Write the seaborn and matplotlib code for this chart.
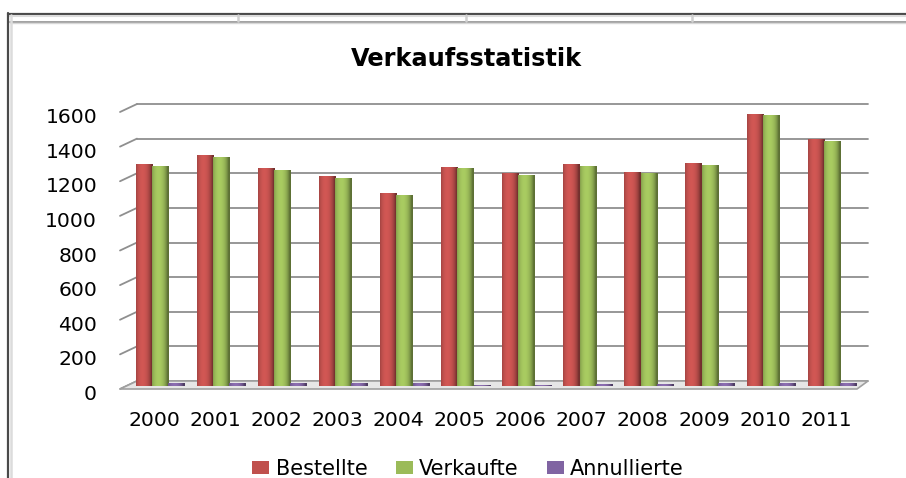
import numpy as np
import pandas as pd
import seaborn as sns
import matplotlib
matplotlib.use("Agg")
import matplotlib.pyplot as plt
from matplotlib.transforms import ScaledTranslation, blended_transform_factory
from matplotlib.patches import Polygon
from matplotlib.lines import Line2D
from matplotlib.colors import to_rgb

# ---- data ----
years = ["2000", "2001", "2002", "2003", "2004", "2005",
         "2006", "2007", "2008", "2009", "2010", "2011"]
bestellte = [1280, 1335, 1262, 1212, 1113, 1265, 1228, 1282, 1238, 1286, 1572, 1425]
verkaufte = [1270, 1320, 1248, 1200, 1103, 1260, 1220, 1273, 1230, 1275, 1563, 1415]
annullierte = [18, 20, 17, 15, 15, 5, 5, 14, 14, 17, 16, 15]
series_names = ["Bestellte", "Verkaufte", "Annullierte"]
y_ticks = [0, 200, 400, 600, 800, 1000, 1200, 1400, 1600]
title = "Verkaufsstatistik"

colors = ["#C0504D", "#9BBB59", "#8064A2"]

df = pd.DataFrame({
    "Jahr": years * 3,
    "Serie": [series_names[0]] * 12 + [series_names[1]] * 12 + [series_names[2]] * 12,
    "Wert": bestellte + verkaufte + annullierte,
})

sns.set_theme(style="white")
plt.rcParams["font.family"] = ["DejaVu Sans"]

W, H = 906, 478
fig = plt.figure(figsize=(W / 100, H / 100), dpi=100)
fig.patch.set_facecolor("white")

# axes: left 120px, right 868px, base 386px, top 109px
ax = fig.add_axes([120 / W, (H - 386) / H, 748 / W, 277 / H])
ax.set_facecolor("none")

sns.barplot(data=df, x="Jahr", y="Wert", hue="Serie", order=years,
            hue_order=series_names, palette=colors, saturation=1,
            width=0.8, ax=ax, legend=False, zorder=3, linewidth=0)

XL = (-0.655, 11.587)
YL = (0, 1600)

# cylinder-like shading over each seaborn bar
t = np.linspace(0, 1, 40)
shade = 0.72 + 0.42 * np.sin(np.pi * np.clip(t * 1.05 + 0.05, 0, 1)) ** 0.6 - 0.12 * t
for p in list(ax.patches):
    if p.get_height() <= 0:
        continue
    base = np.array(to_rgb(p.get_facecolor()))
    row = np.clip(base[None, :] * shade[:, None], 0, 1)
    img = np.repeat(row[None, :, :], 2, axis=0)
    x0 = p.get_x()
    x1 = x0 + p.get_width()
    im = ax.imshow(img, extent=(x0, x1, 0, p.get_height()), aspect="auto",
                   origin="lower", zorder=3.5, interpolation="bilinear")
    im.set_clip_path(p)

ax.set_xlim(*XL)
ax.set_ylim(*YL)
ax.set_aspect("auto")
ax.set_yticks(y_ticks)
ax.set_yticklabels([str(v) for v in y_ticks])
ax.set_xticks(range(len(years)))
ax.set_xticklabels(years)
ax.set_xlabel("")
ax.set_ylabel("")
for s in ax.spines.values():
    s.set_visible(False)
ax.tick_params(axis="y", length=0, pad=16.5, labelsize=14.7, labelcolor="#000000")
ax.tick_params(axis="x", length=0, pad=18, labelsize=14.7, labelcolor="#000000")
ax.grid(False)

dpi_tr = fig.dpi_scale_trans
for lab in ax.get_yticklabels():
    lab.set_transform(lab.get_transform() + ScaledTranslation(0, -6.5 / 100, dpi_tr))
for lab in ax.get_xticklabels():
    lab.set_transform(lab.get_transform() + ScaledTranslation(-6 / 100, 0, dpi_tr))

# 3D-like gridlines (back wall + left wall diagonal)
blend = blended_transform_factory(ax.transAxes, ax.transData)
x_back = (137 - 120) / 748
back_tr = blend + ScaledTranslation(0, 5 / 100, dpi_tr)
for v in y_ticks:
    ax.add_line(Line2D([x_back, 1.0], [v, v], transform=back_tr, color="#8f8f8f",
                       lw=1.3, zorder=1, clip_on=False))
    fy = v / 1600
    ax.add_line(Line2D([0, x_back], [fy - 3 / 277, fy + 5 / 277], transform=ax.transAxes,
                       color="#8f8f8f", lw=1.3, zorder=1, clip_on=False))

# floor
floor = Polygon([(0, -3 / 277), (x_back, 5 / 277), (1.0, 5 / 277), ((857 - 120) / 748, -3 / 277)],
                closed=True, transform=ax.transAxes, facecolor="#e6e6e6",
                edgecolor="#a0a0a0", lw=1.2, zorder=2, clip_on=False)
ax.add_patch(floor)

# title
fig.text(466 / W, (H - 65.5) / H, title, ha="center", va="baseline",
         fontsize=17.3, fontweight="bold", color="#000000")

# legend
handles = [plt.Rectangle((0, 0), 1, 1, facecolor=c, edgecolor="none") for c in colors]
fig.legend(handles, series_names, loc="center", bbox_to_anchor=(468 / W, (H - 469) / H),
           ncol=3, frameon=False, fontsize=15, handlelength=0.82, handleheight=0.58,
           handletextpad=0.3, columnspacing=1.35, borderpad=0, borderaxespad=0,
           labelcolor="#000000")

# spreadsheet frame decoration
ff = fig.transFigure
def fl(xs, ys, **kw):
    fig.add_artist(Line2D([x / W for x in xs], [(H - y) / H for y in ys], transform=ff, **kw))

fl([8, W], [13.5, 13.5], color="#4a4a4a", lw=1.6)
fl([10, W], [15.5, 15.5], color="#dcdcdc", lw=1.5)
fl([10, W], [21.5, 21.5], color="#9a9a9a", lw=1.3)
fl([10, W], [23, 23], color="#d8d8d8", lw=1.0)
fl([8, 8], [13, H], color="#4a4a4a", lw=1.6)
fl([10.5, 10.5], [15, H], color="#dcdcdc", lw=1.8)
for xv in [237.5, 465.5, 691.5]:
    fl([xv, xv], [15, 21], color="#d0d0d0", lw=1.8)

fig.savefig("out.png", dpi=100, facecolor="white")
